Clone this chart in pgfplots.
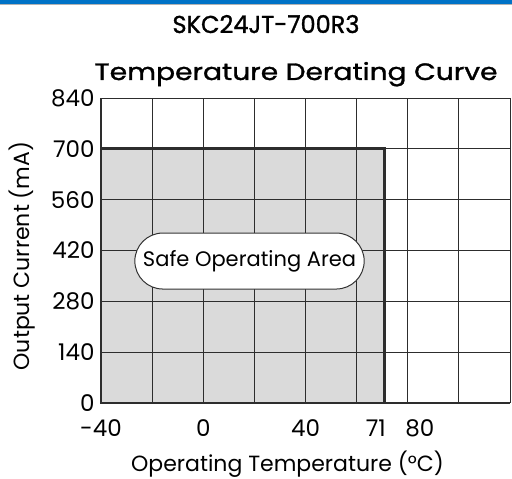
\documentclass[border=0pt]{standalone}
\usepackage{fontspec}
\setmainfont{Poppins}
\newfontfamily\titlefont[FakeBold=1.2]{Poppins}
\usepackage{pgfplots}
\pgfplotsset{compat=1.18}
\usetikzlibrary{shapes.misc}
\definecolor{topblue}{RGB}{0,114,198}
\definecolor{safegray}{RGB}{218,218,218}
\definecolor{gridc}{RGB}{45,45,45}
\begin{document}
\begin{tikzpicture}[x=1pt,y=1pt]
\useasboundingbox (0,0) rectangle (512,479);
\fill[topblue] (0,475) rectangle (512,479);
\fill[black!30] (0,474) rectangle (512,475);
\node[anchor=base] at (266,446) {\resizebox{187pt}{18pt}{\titlefont SKC24JT-700R3}};
\node[anchor=base] at (296,399) {\resizebox{403pt}{18pt}{\titlefont Temperature Derating Curve}};
\begin{axis}[
  at={(101pt,76pt)}, anchor=south west,
  scale only axis, width=409pt, height=305pt,
  xmin=-40, xmax=120, ymin=0, ymax=840,
  axis line style={-, line width=1pt, color=gridc},
  xtick={-40,0,40,71,80},
  xticklabels={{-40},{0},{40},{71\kern18pt},{\kern24pt 80}},
  ytick={0,140,...,840},
  minor xtick={-20,0,...,120},
  xmajorgrids=false, xminorgrids=true, ymajorgrids=true,
  grid style={gridc, line width=1pt},
  minor grid style={gridc, line width=1pt},
  major tick length=0pt, minor tick length=0pt,
  tick style={draw=none},
  /pgf/number format/assume math mode=true,
  ticklabel style={font=\fontsize{23}{23}\selectfont},
  xticklabel style={yshift=-13pt},
  yticklabel style={xshift=-3pt},
  xlabel={Operating Temperature (°C)},
  ylabel={Output Current (mA)},
  label style={font=\fontsize{22}{22}\selectfont},
  xlabel style={at={(axis description cs:0.456,-0.2)}, anchor=center},
  ylabel style={at={(axis description cs:-0.193,0.482)}, anchor=center},
  clip=false,
]
\addplot[fill=safegray, draw=none] coordinates {(-40,0) (-40,700) (71,700) (71,0)} \closedcycle;
\pgfplotsinvokeforeach{-20,0,...,60}{\draw[gridc, line width=1pt] (axis cs:#1,0) -- (axis cs:#1,840);}
\pgfplotsinvokeforeach{140,280,...,560}{\draw[gridc, line width=1pt] (axis cs:-40,#1) -- (axis cs:120,#1);}
\addplot[draw=gridc, line width=2.8pt, line join=miter] coordinates {(-40,700) (71,700) (71,0)};
\addplot[draw=gridc, line width=2.8pt, line join=miter] coordinates {(-40,840) (-40,0) (120,0)};
\coordinate (boxc) at (axis cs:18.1,391);
\end{axis}
\node[rounded rectangle, draw=black!80, line width=1pt, fill=white, minimum width=236pt, minimum height=56pt, font=\fontsize{21}{21}\selectfont] at (boxc) {Safe Operating Area};
\end{tikzpicture}
\end{document}
